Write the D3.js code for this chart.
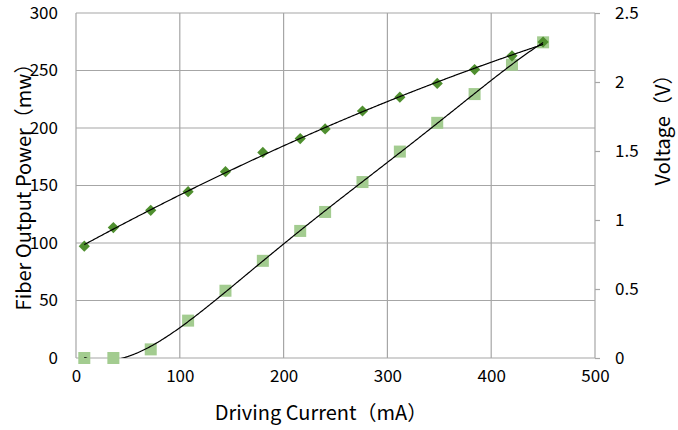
<!DOCTYPE html>
<html>
<head>
<meta charset="utf-8">
<script src="https://cdn.jsdelivr.net/npm/d3@7/dist/d3.min.js"></script>
<style>
  body { margin: 0; background: #fff; }
  text { font-family: "Noto Sans CJK SC", "Noto Sans", sans-serif; fill: #000; }
</style>
</head>
<body>
<div id="chart"></div>
<script>
// Driving current (mA)
var current = [8, 36, 72, 108, 144, 180, 216, 240, 276, 312, 348, 384, 420, 450];
// Fiber output power (mW), left axis
var power = [0, 0, 7.5, 32.5, 58.5, 84.5, 110.5, 127, 153, 179.5, 204.5, 229.5, 255, 274.5];
// Voltage (V), right axis
var voltage = [0.81, 0.945, 1.07, 1.205, 1.35, 1.49, 1.59, 1.66, 1.79, 1.89, 1.99, 2.09, 2.19, 2.29];

var xTicks = [0, 100, 200, 300, 400, 500],
    yTicks = [0, 50, 100, 150, 200, 250, 300],
    y2Ticks = [0, 0.5, 1, 1.5, 2, 2.5];

var width = 678,
    height = 430,
    margin = {top: 13, right: 83, bottom: 72, left: 76};

var x = d3.scaleLinear().domain([0, 500]).range([margin.left, width - margin.right]),
    y = d3.scaleLinear().domain([0, 300]).range([height - margin.bottom, margin.top]),
    y2 = d3.scaleLinear().domain([0, 2.5]).range([height - margin.bottom, margin.top]);

var gridColor = "#a6a6a6";

// least squares polynomial fit (trendline like the spreadsheet one)
// x is scaled to 0..1 first so the normal equations stay well conditioned
function polyfit(xs, ys, order) {
    var n = order + 1, A = [], i, j, k,
        s0 = 500;
    for (i = 0; i < n; i++) {
        A.push([]);
        for (j = 0; j <= n; j++) A[i].push(0);
    }
    xs.forEach(function(xv, p) {
        var t = xv / s0;
        for (i = 0; i < n; i++) {
            for (j = 0; j < n; j++) A[i][j] += Math.pow(t, i + j);
            A[i][n] += ys[p] * Math.pow(t, i);
        }
    });
    for (i = 0; i < n; i++) {
        var max = i;
        for (k = i + 1; k < n; k++) if (Math.abs(A[k][i]) > Math.abs(A[max][i])) max = k;
        var tmp = A[i]; A[i] = A[max]; A[max] = tmp;
        for (k = i + 1; k < n; k++) {
            var f = A[k][i] / A[i][i];
            for (j = i; j <= n; j++) A[k][j] -= f * A[i][j];
        }
    }
    var c = new Array(n).fill(0);
    for (i = n - 1; i >= 0; i--) {
        var s = A[i][n];
        for (j = i + 1; j < n; j++) s -= A[i][j] * c[j];
        c[i] = s / A[i][i];
    }
    return function(v) {
        var r = 0, t = v / s0;
        for (var m = 0; m < n; m++) r += c[m] * Math.pow(t, m);
        return r;
    };
}

var svg = d3.select("#chart").append("svg")
    .attr("width", width)
    .attr("height", height);

svg.append("defs").append("clipPath").attr("id", "plot")
    .append("rect")
    .attr("x", margin.left)
    .attr("y", margin.top)
    .attr("width", x(500) - x(0))
    .attr("height", y(0) - y(300));

// grid
var grid = svg.append("g").attr("class", "grid");
grid.selectAll("line.h")
    .data(yTicks)
    .enter().append("line")
    .attr("class", "h")
    .attr("x1", x(0)).attr("x2", x(500))
    .attr("y1", function(d) { return y(d); })
    .attr("y2", function(d) { return y(d); })
    .attr("stroke", gridColor).attr("stroke-width", 1.2);
grid.selectAll("line.v")
    .data(xTicks)
    .enter().append("line")
    .attr("class", "v")
    .attr("y1", y(0)).attr("y2", y(300))
    .attr("x1", function(d) { return x(d); })
    .attr("x2", function(d) { return x(d); })
    .attr("stroke", gridColor).attr("stroke-width", 1.2);

// axes
var xAxis = d3.axisBottom(x).tickValues(xTicks).tickSize(0).tickPadding(12),
    yAxis = d3.axisLeft(y).tickValues(yTicks).tickSize(0).tickPadding(18),
    y2Axis = d3.axisRight(y2).tickValues(y2Ticks).tickSize(5).tickPadding(15)
        .tickFormat(d3.format("~g"));

function styleAxis(g) {
    g.select(".domain").remove();
    g.selectAll(".tick line").attr("stroke", gridColor).attr("stroke-width", 1.2);
    g.selectAll(".tick text").style("font-size", "17px");
}

svg.append("g")
    .attr("transform", "translate(0," + y(0) + ")")
    .call(xAxis)
    .call(styleAxis);

svg.append("g")
    .attr("transform", "translate(" + x(0) + ",0)")
    .call(yAxis)
    .call(styleAxis);

svg.append("g")
    .attr("transform", "translate(" + x(500) + ",0)")
    .call(y2Axis)
    .call(styleAxis)
    .selectAll(".tick text").attr("dy", "0.3em");

// markers
var rows = current.map(function(c, i) { return {c: c, p: power[i], v: voltage[i]}; });

svg.append("g").selectAll("rect")
    .data(rows)
    .enter().append("rect")
    .attr("x", function(d) { return x(d.c) - 6; })
    .attr("y", function(d) { return y(d.p) - 6; })
    .attr("width", 12)
    .attr("height", 12)
    .attr("fill", "#a3cc90");

svg.append("g").selectAll("path")
    .data(rows)
    .enter().append("path")
    .attr("d", d3.symbol().type(d3.symbolDiamond2).size(80))
    .attr("transform", function(d) { return "translate(" + x(d.c) + "," + y2(d.v) + ")"; })
    .attr("fill", "#4f8f2f");

// trendlines
var powerFit = polyfit(current, power, 5),
    voltFit = polyfit(current, voltage, 2),
    xs = d3.range(current[0], current[current.length - 1] + 0.5, 1);

var lines = svg.append("g").attr("clip-path", "url(#plot)");
lines.append("path")
    .datum(xs)
    .attr("fill", "none")
    .attr("stroke", "#000")
    .attr("stroke-width", 1.2)
    .attr("d", d3.line()
        .x(function(d) { return x(d); })
        .y(function(d) { return y(powerFit(d)); }));
lines.append("path")
    .datum(xs)
    .attr("fill", "none")
    .attr("stroke", "#000")
    .attr("stroke-width", 1.2)
    .attr("d", d3.line()
        .x(function(d) { return x(d); })
        .y(function(d) { return y2(voltFit(d)); }));

// titles
svg.append("text")
    .attr("x", 321).attr("y", 420)
    .attr("text-anchor", "middle")
    .style("font-size", "20px")
    .text("Driving Current（mA）");

svg.append("text")
    .attr("transform", "translate(31,182) rotate(-90)")
    .attr("text-anchor", "middle")
    .style("font-size", "20px")
    .text("Fiber Output Power（mw）");

svg.append("text")
    .attr("transform", "translate(670,125) rotate(-90)")
    .attr("text-anchor", "middle")
    .style("font-size", "20px")
    .text("Voltage（V）");
</script>
</body>
</html>
